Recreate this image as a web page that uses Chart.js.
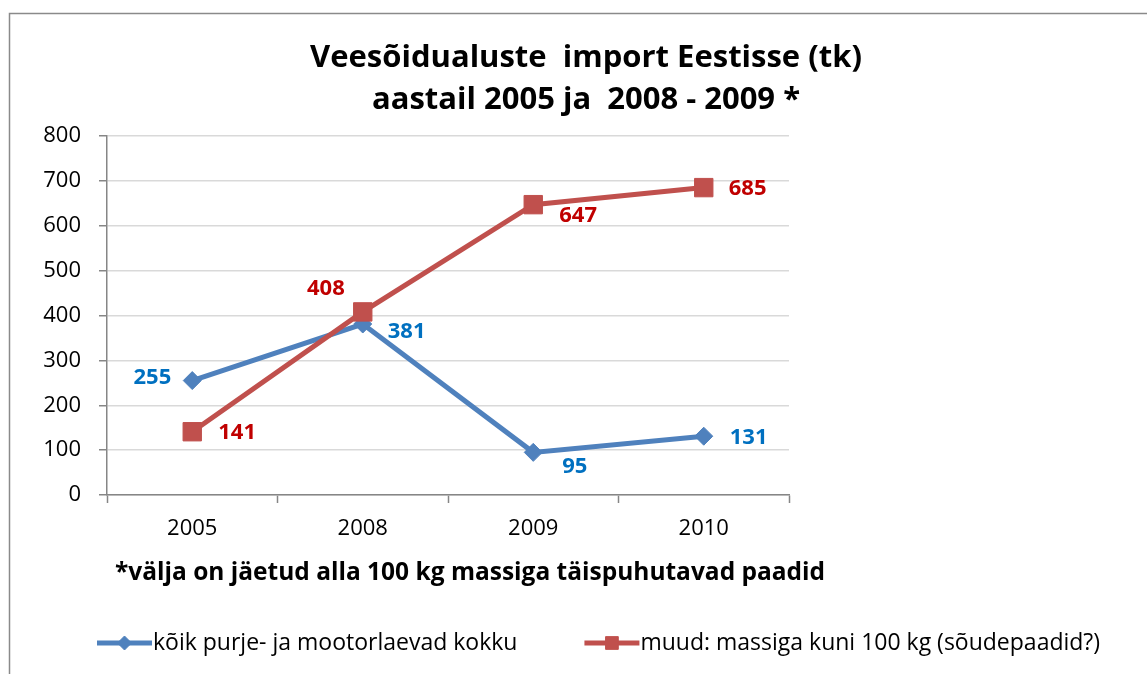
<!DOCTYPE html>
<html>
<head>
<meta charset="utf-8">
<script src="https://cdn.jsdelivr.net/npm/chart.js@4.4.1/dist/chart.umd.min.js"></script>
<style>
  html, body { margin: 0; padding: 0; background: #ffffff; overflow: hidden; }
  canvas { display: block; }
</style>
</head>
<body>
<canvas id="c" width="1147" height="674"></canvas>
<script>
// ---- data ----
const categories = ['2005', '2008', '2009', '2010'];
const seriesAllVessels = [255, 381, 95, 131];
const seriesSmallBoats = [141, 408, 647, 685];
const seriesNames = [
  'kõik purje- ja mootorlaevad kokku',
  'muud: massiga kuni 100 kg (sõudepaadid?)'
];
const titleLines = ['Veesõidualuste  import Eestisse (tk)', 'aastail 2005 ja  2008 - 2009 *'];
const footnoteText = '*välja on jäetud alla 100 kg massiga täispuhutavad paadid';

// ---- style ----
const FONT = '"Open Sans", Lato, "Liberation Sans", sans-serif';
const BLUE = '#4F81BD', RED = '#C0504D';
const BLUE_LABEL = '#0070C0', RED_LABEL = '#C00000';
const AXIS_GREY = '#868686', GRID_GREY = '#D9D9D9';
const TITLE_CENTER_X = 586;
const LEGEND_LEFT = 97;

// label placement relative to each point (dx, dy, align)
const labelPlacement = [
  [[-21, -3, 'right'], [25, 8, 'left'], [29, 14, 'left'], [26, 2, 'left']],
  [[26, 1, 'left'], [-18, -23, 'right'], [26, 11, 'left'], [25, 1, 'left']]
];
const labelColors = [BLUE_LABEL, RED_LABEL];
const legendMarkerRadius = [7, 9];

const extras = {
  id: 'extras',
  beforeDraw(chart) {
    const ctx = chart.ctx;
    ctx.save();
    ctx.fillStyle = '#ffffff';
    ctx.fillRect(0, 0, chart.width, chart.height);
    ctx.strokeStyle = '#8a8a8a';
    ctx.lineWidth = 1.5;
    ctx.strokeRect(9.5, 13.5, 1300, 800);
    // title
    ctx.fillStyle = '#000000';
    ctx.font = 'bold 31px ' + FONT;
    ctx.textAlign = 'center';
    ctx.textBaseline = 'middle';
    titleLines.forEach((t, i) => ctx.fillText(t, TITLE_CENTER_X, 58 + i * 42));
    ctx.restore();
  },
  afterDatasetsDraw(chart) {
    const ctx = chart.ctx;
    ctx.save();
    ctx.font = 'bold 22px ' + FONT;
    ctx.textBaseline = 'middle';
    chart.data.datasets.forEach((ds, di) => {
      const meta = chart.getDatasetMeta(di);
      meta.data.forEach((pt, i) => {
        const p = labelPlacement[di][i];
        ctx.fillStyle = labelColors[di];
        ctx.textAlign = p[2];
        ctx.fillText(String(ds.data[i]), pt.x + p[0], pt.y + p[1]);
      });
    });
    ctx.restore();
  },
  afterDraw(chart) {
    const ctx = chart.ctx;
    const area = chart.chartArea;
    ctx.save();
    // footnote
    ctx.font = 'bold 24.5px ' + FONT;
    ctx.fillStyle = '#000000';
    ctx.textAlign = 'left';
    ctx.textBaseline = 'middle';
    ctx.fillText(footnoteText, area.left + 8, 573);
    // legend
    ctx.font = '23px ' + FONT;
    const sampleW = 55, gap = 1, itemGap = 67;
    let x = LEGEND_LEFT;
    const y = 643;
    chart.data.datasets.forEach((ds, di) => {
      ctx.strokeStyle = ds.borderColor;
      ctx.lineWidth = 5;
      ctx.beginPath();
      ctx.moveTo(x, y);
      ctx.lineTo(x + sampleW, y);
      ctx.stroke();
      ctx.fillStyle = ds.pointBackgroundColor;
      ctx.strokeStyle = ds.pointBorderColor;
      ctx.lineWidth = 1;
      Chart.helpers.drawPoint(ctx, {
        pointStyle: ds.pointStyle,
        radius: legendMarkerRadius[di],
        borderWidth: 1
      }, x + sampleW / 2, y);
      ctx.fillStyle = '#000000';
      ctx.textAlign = 'left';
      ctx.fillText(ds.label, x + sampleW + gap, y);
      x += sampleW + gap + ctx.measureText(ds.label).width + itemGap;
    });
    ctx.restore();
  }
};

new Chart(document.getElementById('c'), {
  type: 'line',
  data: {
    labels: categories,
    datasets: [
      {
        label: seriesNames[0],
        data: seriesAllVessels,
        borderColor: BLUE,
        backgroundColor: BLUE,
        pointBackgroundColor: BLUE,
        pointBorderColor: BLUE,
        borderWidth: 5,
        pointStyle: 'rectRot',
        pointRadius: 9,
        pointHoverRadius: 9,
        pointBorderWidth: 1,
        tension: 0,
        order: 2
      },
      {
        label: seriesNames[1],
        data: seriesSmallBoats,
        borderColor: RED,
        backgroundColor: RED,
        pointBackgroundColor: RED,
        pointBorderColor: RED,
        borderWidth: 5,
        pointStyle: 'rect',
        pointRadius: 13,
        pointHoverRadius: 13,
        pointBorderWidth: 1,
        tension: 0,
        order: 1
      }
    ]
  },
  options: {
    responsive: false,
    animation: false,
    devicePixelRatio: 1,
    layout: { padding: { left: 0, right: 358, top: 136, bottom: 139 } },
    plugins: {
      legend: { display: false },
      tooltip: { enabled: false },
      title: { display: false }
    },
    scales: {
      x: {
        offset: true,
        grid: {
          offset: true,
          drawOnChartArea: false,
          drawTicks: true,
          tickLength: 8,
          tickColor: AXIS_GREY,
          tickWidth: 1.5
        },
        border: { color: AXIS_GREY, width: 1.5 },
        ticks: { color: '#000000', font: { family: FONT, size: 22 }, padding: 13, maxRotation: 0 },
        afterFit(scale) { scale.height = 40; }
      },
      y: {
        min: 0,
        max: 800,
        ticks: { stepSize: 100, color: '#000000', font: { family: FONT, size: 22 }, padding: 18 },
        grid: {
          color: GRID_GREY,
          lineWidth: 1.5,
          tickLength: 8,
          tickColor: AXIS_GREY,
          tickWidth: 1.5
        },
        border: { color: AXIS_GREY, width: 1.5 },
        afterFit(scale) { scale.width = 107; }
      }
    }
  },
  plugins: [extras]
});
</script>
</body>
</html>
